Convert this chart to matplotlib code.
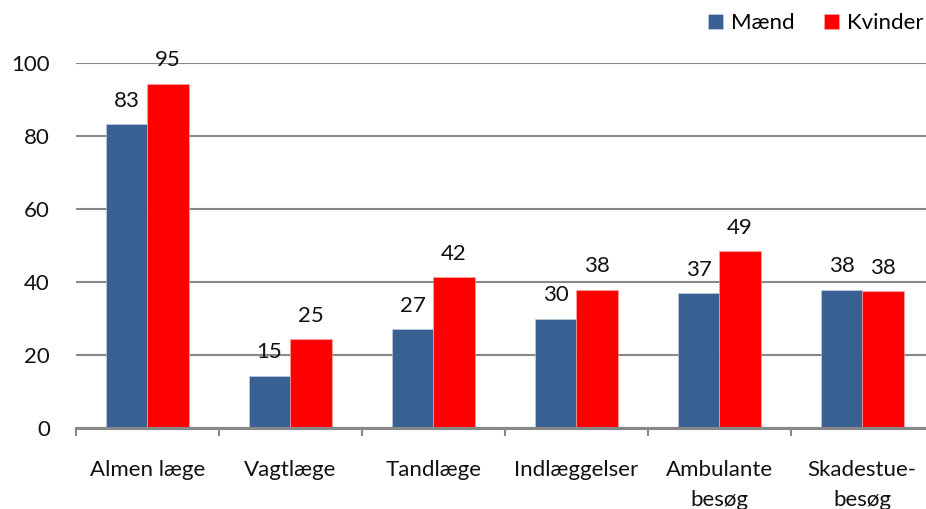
import matplotlib.pyplot as plt
import numpy as np

plt.rcParams['font.family'] = ['Lato', 'DejaVu Sans']

categories = ['Almen læge', 'Vagtlæge', 'Tandlæge', 'Indlæggelser', 'Ambulante\nbesøg', 'Skadestue-\nbesøg']
maend = [83.2, 14.3, 27.0, 29.8, 36.9, 37.8]
kvinder = [94.3, 24.2, 41.2, 37.8, 48.3, 37.4]
maend_labels = ['83', '15', '27', '30', '37', '38']
kvinder_labels = ['95', '25', '42', '38', '49', '38']

blue = '#386092'
red = '#ff0000'
grey = '#888888'

fig = plt.figure(figsize=(9.26, 5.09), dpi=100)
ax = fig.add_axes([75.7 / 926, 81.3 / 509, 858 / 926, 365 / 509])

x = np.arange(len(categories))
w = 0.29
b1 = ax.bar(x - w / 2, maend, w, color=blue, label='Mænd', edgecolor='#c9d3e3', linewidth=0.4)
b2 = ax.bar(x + w / 2, kvinder, w, color=red, label='Kvinder', edgecolor='#ffb0b0', linewidth=0.4)

for bars, labels in [(b1, maend_labels), (b2, kvinder_labels)]:
    for rect, lab in zip(bars, labels):
        ax.annotate(lab, (rect.get_x() + rect.get_width() / 2, rect.get_height()),
                    xytext=(0, 12.6), textcoords='offset points',
                    ha='center', va='baseline', fontsize=16, color='#111111')

ax.set_xlim(-0.5, len(categories) - 0.5)
ax.set_ylim(0, 100)
ax.set_yticks([0, 20, 40, 60, 80, 100])
ax.yaxis.grid(True, color=grey, linewidth=1.5)
ax.set_axisbelow(True)

ax.set_xticks(x)
ax.set_xticklabels(categories, linespacing=1.65)
ax.set_xticks(np.arange(len(categories) + 1) - 0.5, minor=True)
ax.tick_params(axis='x', which='major', length=0, pad=23, labelsize=16, labelcolor='#111111')
ax.tick_params(axis='x', which='minor', length=6, width=1.5, color=grey, direction='out')
ax.tick_params(axis='y', length=0, pad=18.5, labelsize=16, labelcolor='#111111')

for s in ['left', 'top', 'right']:
    ax.spines[s].set_visible(False)
ax.spines['bottom'].set_color(grey)
ax.spines['bottom'].set_linewidth(2.2)

fig.legend(loc='upper right', bbox_to_anchor=(1.007, 0.992), ncol=2, frameon=False,
           fontsize=16, handlelength=0.68, handleheight=0.68, handletextpad=0.36,
           columnspacing=1.3, borderaxespad=0)

fig.savefig('out.png', dpi=100)
